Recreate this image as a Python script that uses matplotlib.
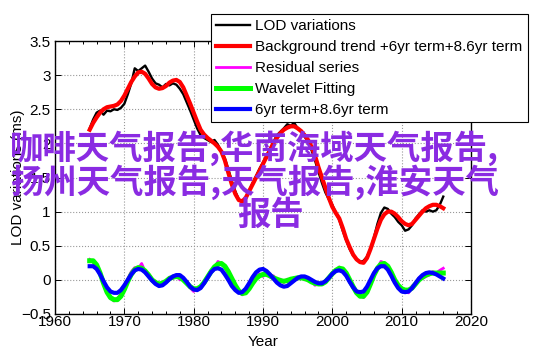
import numpy as np
import matplotlib
matplotlib.use('Agg')
import matplotlib.pyplot as plt
from matplotlib.ticker import MultipleLocator

plt.rcParams['font.family'] = ['Liberation Sans', 'DejaVu Sans']

# sample years, every half year 1965 - 2016
years = np.arange(1965.0, 2016.5, 0.5)

lod = [2.22, 2.35, 2.45, 2.48, 2.42, 2.48, 2.47, 2.50, 2.49, 2.52,
       2.58, 2.72, 2.88, 3.10, 3.06, 3.10, 3.14, 3.05, 2.95, 2.88,
       2.86, 2.82, 2.87, 2.85, 2.88, 2.86, 2.80, 2.72, 2.60, 2.48,
       2.35, 2.22, 2.12, 2.08, 2.05, 2.02, 2.05, 1.98, 1.88, 1.78,
       1.62, 1.45, 1.30, 1.18, 1.14, 1.20, 1.30, 1.42, 1.52, 1.63,
       1.72, 1.82, 1.92, 2.02, 2.12, 2.17, 2.22, 2.28, 2.26, 2.30,
       2.22, 2.18, 2.10, 2.02, 1.90, 1.75, 1.58, 1.42, 1.28, 1.18,
       1.10, 0.98, 0.88, 0.72, 0.58, 0.45, 0.36, 0.30, 0.26, 0.28,
       0.34, 0.45, 0.62, 0.82, 0.98, 1.06, 1.04, 0.97, 0.92, 0.85,
       0.80, 0.72, 0.74, 0.80, 0.90, 0.96, 1.02, 1.00, 1.02, 1.00,
       1.02, 1.10, 1.22]

trend = [2.20, 2.30, 2.38, 2.45, 2.50, 2.53, 2.54, 2.55, 2.57, 2.62,
         2.70, 2.80, 2.90, 2.98, 3.04, 3.05, 3.02, 2.95, 2.87, 2.82,
         2.80, 2.81, 2.84, 2.89, 2.92, 2.93, 2.90, 2.82, 2.70, 2.58,
         2.45, 2.32, 2.20, 2.13, 2.08, 2.04, 2.00, 1.95, 1.88, 1.75,
         1.57, 1.40, 1.26, 1.17, 1.15, 1.20, 1.30, 1.40, 1.50, 1.60,
         1.70, 1.80, 1.90, 2.00, 2.08, 2.15, 2.20, 2.23, 2.25, 2.25,
         2.22, 2.18, 2.12, 2.05, 1.95, 1.82, 1.65, 1.50, 1.35, 1.20,
         1.07, 0.98, 0.90, 0.76, 0.60, 0.48, 0.37, 0.30, 0.26, 0.25,
         0.32, 0.45, 0.60, 0.75, 0.88, 0.96, 1.00, 1.00, 0.97, 0.92,
         0.86, 0.82, 0.80, 0.82, 0.88, 0.94, 1.00, 1.05, 1.08, 1.10,
         1.10, 1.08, 1.05]

residual = [0.30, 0.26, 0.20, 0.12, -0.06, -0.20, -0.25, -0.31, -0.27, -0.22,
            -0.12, 0.02, 0.12, 0.18, 0.17, 0.24, 0.12, 0.09, 0.00, -0.02,
            -0.08, -0.03, -0.03, 0.04, 0.02, 0.07, 0.00, 0.01, -0.06, -0.12,
            -0.17, -0.12, -0.11, -0.02, 0.03, 0.14, 0.17, 0.27, 0.24, 0.18,
            0.14, 0.00, -0.09, -0.17, -0.22, -0.17, -0.10, -0.05, 0.03, 0.09,
            0.05, 0.10, 0.04, 0.06, 0.00, 0.01, -0.04, 0.01, 0.00, 0.03,
            0.01, 0.04, 0.00, 0.03, -0.02, -0.08, -0.05, -0.07, -0.02, 0.02,
            0.10, 0.12, 0.19, 0.15, 0.08, 0.02, -0.11, -0.20, -0.22, -0.26,
            -0.17, -0.07, 0.06, 0.16, 0.27, 0.25, 0.20, 0.10, 0.01, -0.10,
            -0.12, -0.18, -0.19, -0.09, -0.06, 0.03, 0.02, 0.05, 0.07, 0.12,
            0.10, 0.14, 0.17]

wavelet = [0.28, 0.28, 0.22, 0.10, -0.05, -0.18, -0.26, -0.29, -0.29, -0.24,
           -0.14, -0.02, 0.08, 0.15, 0.18, 0.17, 0.13, 0.07, 0.00, -0.04,
           -0.06, -0.05, -0.02, 0.02, 0.04, 0.05, 0.04, 0.00, -0.05, -0.10,
           -0.13, -0.13, -0.10, -0.04, 0.04, 0.12, 0.19, 0.23, 0.24, 0.20,
           0.12, 0.02, -0.08, -0.16, -0.20, -0.19, -0.13, -0.05, 0.02, 0.06,
           0.08, 0.08, 0.06, 0.03, 0.01, -0.01, -0.02, -0.01, 0.01, 0.02,
           0.03, 0.03, 0.02, 0.00, -0.03, -0.05, -0.06, -0.06, -0.03, 0.03,
           0.09, 0.14, 0.17, 0.16, 0.10, 0.00, -0.10, -0.19, -0.24, -0.24,
           -0.18, -0.06, 0.07, 0.17, 0.23, 0.24, 0.20, 0.11, 0.00, -0.08,
           -0.13, -0.15, -0.15, -0.12, -0.06, 0.00, 0.04, 0.07, 0.09, 0.10,
           0.10, 0.10, 0.10]

terms = [0.20, 0.20, 0.16, 0.08, -0.02, -0.11, -0.17, -0.19, -0.19, -0.15,
         -0.08, 0.00, 0.08, 0.14, 0.16, 0.15, 0.11, 0.05, -0.01, -0.06,
         -0.09, -0.08, -0.04, 0.01, 0.05, 0.07, 0.07, 0.03, -0.03, -0.10,
         -0.14, -0.15, -0.12, -0.05, 0.03, 0.11, 0.16, 0.17, 0.15, 0.08,
         0.00, -0.09, -0.15, -0.19, -0.18, -0.13, -0.05, 0.04, 0.11, 0.15,
         0.16, 0.13, 0.08, 0.02, -0.04, -0.08, -0.10, -0.09, -0.05, -0.01,
         0.03, 0.05, 0.05, 0.03, 0.00, -0.03, -0.05, -0.05, -0.02, 0.03,
         0.09, 0.13, 0.14, 0.12, 0.06, -0.03, -0.11, -0.17, -0.18, -0.17,
         -0.10, 0.00, 0.10, 0.17, 0.20, 0.20, 0.15, 0.06, -0.04, -0.12,
         -0.17, -0.18, -0.17, -0.12, -0.05, 0.02, 0.07, 0.10, 0.11, 0.10,
         0.08, 0.05, 0.02]

labels = ['LOD variations', 'Background trend +6yr term+8.6yr term',
          'Residual series', 'Wavelet Fitting', '6yr term+8.6yr term']

overlay = ['咖啡天气报告,华南海域天气报告,', '扬州天气报告,天气报告,淮安天气', '报告']

fig = plt.figure(figsize=(5.42, 3.56), dpi=100)
ax = fig.add_axes([0.1015, 0.118, 0.7675, 0.7668])

ax.plot(years, lod, color='black', lw=1.7, label=labels[0])
ax.plot(years, trend, color='red', lw=3, label=labels[1])
ax.plot(years, residual, color='magenta', lw=2, label=labels[2])
ax.plot(years, wavelet, color='lime', lw=3.6, label=labels[3])
ax.plot(years, terms, color='blue', lw=3, label=labels[4])

ax.set_xlim(1960, 2020)
ax.set_ylim(-0.5, 3.5)
ax.xaxis.set_major_locator(MultipleLocator(10))
ax.xaxis.set_minor_locator(MultipleLocator(2))
ax.set_yticks(np.arange(-0.5, 3.51, 0.5))
ax.set_yticklabels(['\u22120.5', '0', '0.5', '1', '1.5', '2', '2.5', '3', '3.5'])
ax.tick_params(which='both', direction='in', top=True, right=True, labelsize=11)
ax.tick_params(which='major', length=4, width=0.7)
ax.tick_params(which='minor', length=2.5, width=0.7)
ax.tick_params(axis='x', pad=1)
ax.tick_params(axis='y', pad=3)
ax.grid(True, which='major', linestyle=':', color='#999999', lw=0.8)
for s in ax.spines.values():
    s.set_linewidth(1.0)

ax.set_xlabel('Year', fontsize=11, labelpad=4)
ax.set_ylabel('LOD variations (ms)', fontsize=11)
ax.yaxis.set_label_coords(-0.072, 0.5)

fig.legend(loc='upper right', bbox_to_anchor=(528 / 542, 1 - 14 / 356),
           bbox_transform=fig.transFigure, borderaxespad=0, fancybox=False,
           edgecolor='black', framealpha=1, fontsize=11, handlelength=2.2,
           handletextpad=0.35, labelspacing=0.45, borderpad=0.35)
fig.legends[0].get_frame().set_linewidth(0.8)

cjk = ['Noto Sans CJK SC', 'DejaVu Sans']
fig.text(10 / 542, 1 - 148 / 356, overlay[0], family=cjk, fontsize=24,
         fontweight='bold', color='#8a2be2', ha='left', va='center', zorder=10)
fig.text(10 / 542, 1 - 182 / 356, overlay[1], family=cjk, fontsize=24,
         fontweight='bold', color='#8a2be2', ha='left', va='center', zorder=10)
fig.text(271 / 542, 1 - 215 / 356, overlay[2], family=cjk, fontsize=24,
         fontweight='bold', color='#8a2be2', ha='center', va='center', zorder=10)

fig.savefig('out.png', dpi=100)
